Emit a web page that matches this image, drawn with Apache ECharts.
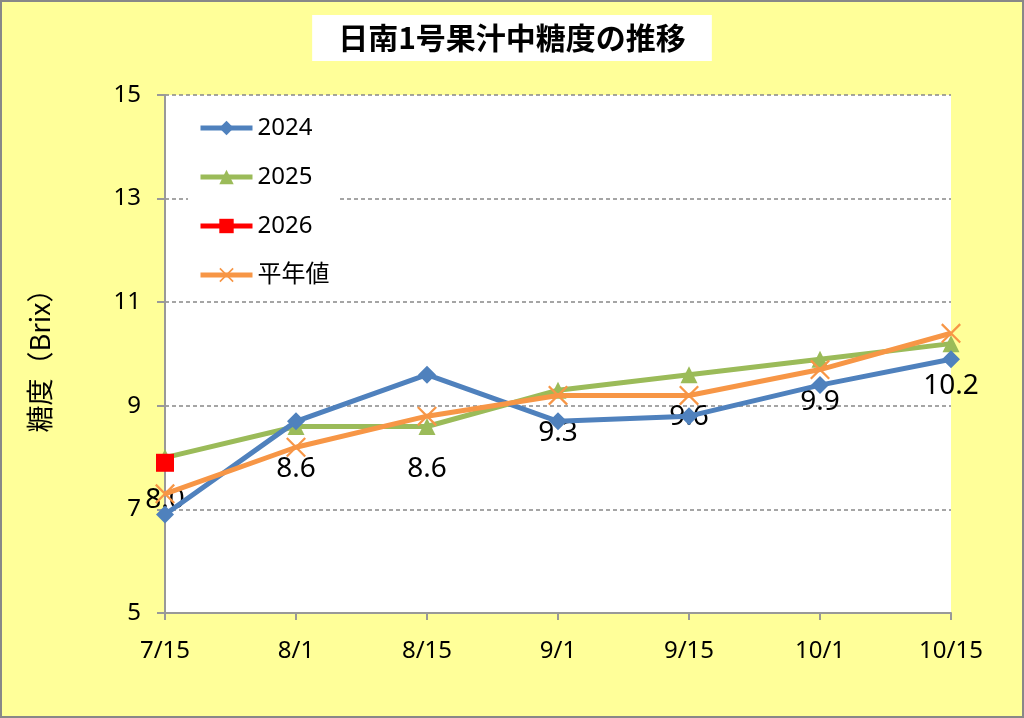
<!DOCTYPE html>
<html>
<head>
<meta charset="utf-8">
<script src="https://cdn.jsdelivr.net/npm/echarts@6/dist/echarts.min.js"></script>
<style>
  html, body { margin: 0; padding: 0; background: #FFFF99; }
  #main { width: 1024px; height: 718px; }
</style>
</head>
<body>
<div id="main"></div>
<script>
var categories = ["7/15", "8/1", "8/15", "9/1", "9/15", "10/1", "10/15"];
var data2024 = [6.9, 8.7, 9.6, 8.7, 8.8, 9.4, 9.9];
var data2025 = [8.0, 8.6, 8.6, 9.3, 9.6, 9.9, 10.2];
var data2026 = [7.9, null, null, null, null, null, null];
var dataAvg = [7.3, 8.2, 8.8, 9.2, 9.2, 9.7, 10.4];

var font = '"Noto Sans", "Noto Sans CJK JP", sans-serif';
var cjkFont = '"Noto Sans CJK JP", sans-serif';
// filled X shape for 平年値
var crossPath = "path://M0,0.8L0.8,0L10,9.2L9.2,10Z M9.2,0L10,0.8L0.8,10L0,9.2Z";

var myChart = echarts.init(document.getElementById("main"));
var option = {
  backgroundColor: "#FFFF99",
  textStyle: { fontFamily: font },
  title: {
    text: "日南1号果汁中糖度の推移",
    left: "center",
    top: 15,
    backgroundColor: "#fff",
    padding: [8, 26],
    textStyle: { fontSize: 30, fontWeight: "bold", color: "#000", fontFamily: cjkFont }
  },
  graphic: [{
    type: "rect",
    shape: { x: 1, y: 1, width: 1022, height: 716 },
    style: { fill: "none", stroke: "#888", lineWidth: 2 },
    silent: true
  }],
  legend: {
    orient: "vertical",
    left: 188,
    top: 108,
    padding: [8, 10, 8, 10],
    backgroundColor: "#fff",
    itemWidth: 52,
    itemHeight: 18,
    itemGap: 25,
    lineStyle: { width: 5 },
    textStyle: { fontSize: 24, color: "#000", fontFamily: font },
    data: ["2024", "2025", "2026", "平年値"]
  },
  grid: { left: 165, right: 73, top: 95, bottom: 105, backgroundColor: "#fff", show: true, borderWidth: 0 },
  xAxis: {
    type: "category",
    data: categories,
    boundaryGap: false,
    axisLine: { lineStyle: { color: "#999", width: 2 } },
    axisTick: { show: true, length: 7, lineStyle: { color: "#999", width: 2 } },
    axisLabel: { fontSize: 24, color: "#000", margin: 26 }
  },
  yAxis: {
    type: "value",
    min: 5,
    max: 15,
    interval: 2,
    name: "糖度（Brix）",
    nameLocation: "middle",
    nameRotate: 90,
    nameGap: 112,
    nameTextStyle: { fontSize: 27, color: "#000", fontFamily: cjkFont },
    axisLine: { show: true, lineStyle: { color: "#999", width: 2 } },
    axisTick: { show: true, length: 8, lineStyle: { color: "#999", width: 2 } },
    axisLabel: { fontSize: 24, color: "#000", margin: 24 },
    splitLine: { lineStyle: { color: "#888", type: [4, 3], width: 1.5 } }
  },
  series: [
    {
      name: "2024",
      type: "line",
      data: data2024,
      symbol: "diamond",
      symbolSize: 18,
      lineStyle: { width: 5, color: "#4F81BD" },
      itemStyle: { color: "#4F81BD" },
      z: 3
    },
    {
      name: "2025",
      type: "line",
      data: data2025,
      symbol: "triangle",
      symbolSize: 17,
      lineStyle: { width: 5, color: "#9BBB59" },
      itemStyle: { color: "#9BBB59" },
      label: {
        show: true,
        position: "bottom",
        distance: 20,
        fontSize: 28,
        color: "#000",
        formatter: function (p) { return p.value.toFixed(1); }
      },
      z: 2
    },
    {
      name: "2026",
      type: "line",
      data: data2026,
      symbol: "rect",
      symbolSize: 18,
      lineStyle: { width: 5, color: "#FF0000" },
      itemStyle: { color: "#FF0000" },
      z: 5
    },
    {
      name: "平年値",
      type: "line",
      data: dataAvg,
      symbol: crossPath,
      symbolSize: 20,
      lineStyle: { width: 5, color: "#F79646" },
      itemStyle: { color: "#F79646" },
      z: 4
    }
  ]
};
myChart.setOption(option);
</script>
</body>
</html>
